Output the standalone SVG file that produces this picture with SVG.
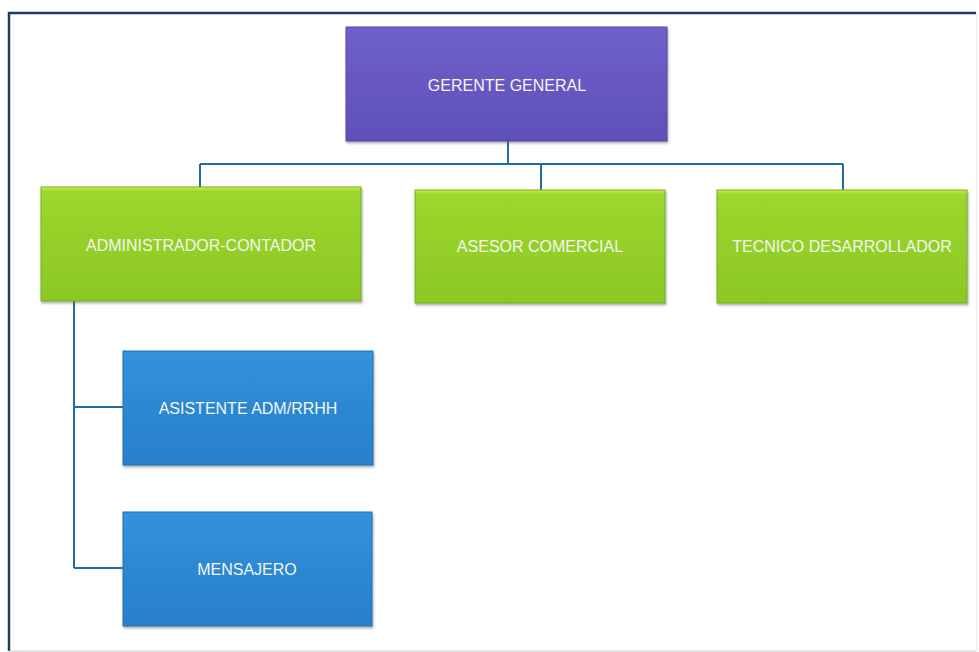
<svg xmlns="http://www.w3.org/2000/svg" width="979" height="652" viewBox="0 0 979 652">
<defs>
<linearGradient id="gPurple" x1="0" y1="0" x2="0" y2="1">
<stop offset="0" stop-color="#6e60ca"/>
<stop offset="0.5" stop-color="#6758c2"/>
<stop offset="1" stop-color="#5f50b8"/>
</linearGradient>
<linearGradient id="gGreen" x1="0" y1="0" x2="0" y2="1">
<stop offset="0" stop-color="#d2ea48"/>
<stop offset="0.04" stop-color="#9cd62e"/>
<stop offset="1" stop-color="#8cc824"/>
</linearGradient>
<linearGradient id="gBlue" x1="0" y1="0" x2="0" y2="1">
<stop offset="0" stop-color="#3592da"/>
<stop offset="0.5" stop-color="#2c88d3"/>
<stop offset="1" stop-color="#2880ca"/>
</linearGradient>
<filter id="sh" x="-5%" y="-5%" width="110%" height="115%">
<feDropShadow dx="1" dy="2" stdDeviation="1.2" flood-color="#555" flood-opacity="0.45"/>
</filter>
</defs>
<style>
.box{filter:url(#sh);}
.p{fill:url(#gPurple);stroke:#5448a8;stroke-width:1;}
.g{fill:url(#gGreen);stroke:#78b01c;stroke-width:1;}
.b{fill:url(#gBlue);stroke:#2370b0;stroke-width:1;}
.t{font-family:"Liberation Sans",Arial,sans-serif;font-size:16px;fill:#f4f6ee;text-anchor:middle;dominant-baseline:central;}
.c{fill:none;stroke:#1e6ea6;stroke-width:2;}
.frame{fill:none;stroke:#1c3c68;stroke-width:2.5;}
</style>
<rect width="979" height="652" fill="#ffffff"/>
<path class="frame" d="M976 13 H9 V651"/>
<line x1="9" y1="651" x2="976" y2="651" stroke="#c8ccd4" stroke-width="1"/>
<line x1="977" y1="13" x2="977" y2="651" stroke="#e4e8ee" stroke-width="1"/>
<g id="connectors">
<path class="c" d="M508 141 V164"/>
<path class="c" d="M200 164 H843"/>
<path class="c" d="M200 164 V187"/>
<path class="c" d="M541 164 V190"/>
<path class="c" d="M843 164 V190"/>
<path class="c" d="M74 301 V568"/>
<path class="c" d="M74 407 H123"/>
<path class="c" d="M74 568 H123"/>
</g>
<g id="gerente-general">
<rect class="box p" x="346" y="27" width="321" height="114"/>
<text class="t" x="507" y="85">GERENTE GENERAL</text>
</g>
<g id="administrador-contador">
<rect class="box g" x="41" y="187" width="320" height="114"/>
<text class="t" x="201" y="245">ADMINISTRADOR-CONTADOR</text>
</g>
<g id="asesor-comercial">
<rect class="box g" x="415" y="190" width="250" height="113"/>
<text class="t" x="540" y="246">ASESOR COMERCIAL</text>
</g>
<g id="tecnico-desarrollador">
<rect class="box g" x="717" y="190" width="250" height="113"/>
<text class="t" x="842" y="246">TECNICO DESARROLLADOR</text>
</g>
<g id="asistente-adm-rrhh">
<rect class="box b" x="123" y="351" width="250" height="114"/>
<text class="t" x="248" y="408">ASISTENTE ADM/RRHH</text>
</g>
<g id="mensajero">
<rect class="box b" x="123" y="512" width="249" height="114"/>
<text class="t" x="247" y="569">MENSAJERO</text>
</g>
</svg>
